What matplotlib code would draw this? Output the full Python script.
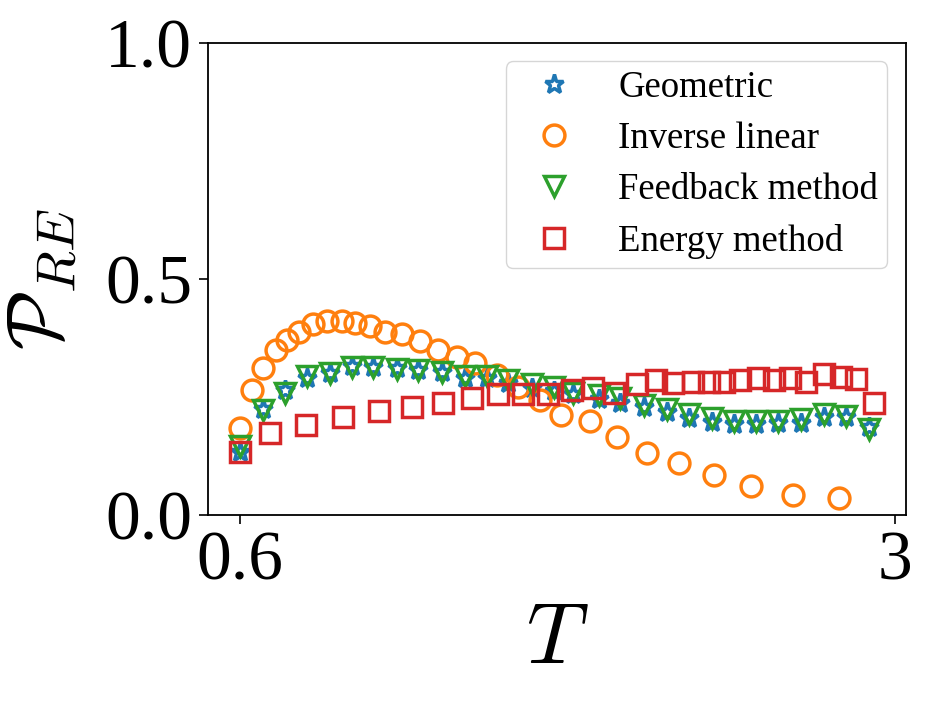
import matplotlib
matplotlib.use('Agg')
import matplotlib.pyplot as plt

# ---------------------------------------------------------------
# DATA

t_geo = [0.600, 0.684, 0.765, 0.846, 0.930, 1.011, 1.088, 1.176, 1.253, 1.341,
         1.426, 1.506, 1.583, 1.672, 1.749, 1.822, 1.914, 1.994, 2.079, 2.163,
         2.244, 2.328, 2.409, 2.490, 2.571, 2.655, 2.739, 2.820, 2.905]
p_geo = [0.133, 0.225, 0.265, 0.290, 0.300, 0.316, 0.314, 0.312, 0.308, 0.302,
         0.290, 0.290, 0.280, 0.270, 0.262, 0.256, 0.245, 0.238, 0.229, 0.218,
         0.205, 0.197, 0.193, 0.193, 0.194, 0.195, 0.207, 0.207, 0.186]

t_inv = [0.600, 0.644, 0.684, 0.732, 0.772, 0.817, 0.868, 0.919, 0.974, 1.022,
         1.077, 1.132, 1.194, 1.260, 1.327, 1.396, 1.462, 1.543, 1.620, 1.701,
         1.778, 1.884, 1.983, 2.093, 2.207, 2.336, 2.472, 2.626, 2.794]
p_inv = [0.184, 0.265, 0.311, 0.350, 0.371, 0.388, 0.405, 0.411, 0.411, 0.407,
         0.400, 0.388, 0.383, 0.369, 0.350, 0.335, 0.322, 0.297, 0.271, 0.244,
         0.212, 0.199, 0.165, 0.131, 0.110, 0.085, 0.062, 0.042, 0.036]

t_fb = t_geo
p_fb = [0.146, 0.222, 0.258, 0.294, 0.301, 0.314, 0.314, 0.309, 0.307, 0.303,
        0.294, 0.294, 0.286, 0.278, 0.271, 0.258, 0.254, 0.248, 0.233, 0.225,
        0.214, 0.206, 0.199, 0.199, 0.199, 0.203, 0.214, 0.210, 0.182]

t_en = [0.600, 0.710, 0.842, 0.978, 1.110, 1.231, 1.345, 1.451, 1.547, 1.639,
        1.727, 1.815, 1.895, 1.972, 2.053, 2.123, 2.185, 2.259, 2.317, 2.372,
        2.431, 2.497, 2.556, 2.615, 2.673, 2.739, 2.802, 2.857, 2.923]
p_en = [0.133, 0.174, 0.191, 0.208, 0.220, 0.229, 0.237, 0.248, 0.256, 0.256,
        0.256, 0.265, 0.269, 0.258, 0.278, 0.286, 0.280, 0.282, 0.282, 0.282,
        0.286, 0.290, 0.286, 0.290, 0.282, 0.299, 0.292, 0.288, 0.237]

labels = ['Geometric', 'Inverse linear', 'Feedback method', 'Energy method']

# ---------------------------------------------------------------
# PLOT

plt.rcParams['font.family'] = ['Liberation Serif', 'DejaVu Serif']
plt.rcParams['mathtext.fontset'] = 'cm'

fig = plt.figure(figsize=(9.3, 7.05), dpi=100)
ax = fig.add_axes([0.2237, 0.2695, 0.7503, 0.6695])

mew = 2.5
ax.plot(t_geo, p_geo, '*', ls='none', ms=14, mew=mew, mfc='none',
        color='#1f77b4', label=labels[0])
ax.plot(t_inv, p_inv, 'o', ls='none', ms=15, mew=mew, mfc='none',
        color='#ff7f0e', label=labels[1])
ax.plot(t_fb, p_fb, 'v', ls='none', ms=15, mew=mew, mfc='none',
        color='#2ca02c', label=labels[2])
ax.plot(t_en, p_en, 's', ls='none', ms=15, mew=mew, mfc='none',
        color='#d62728', label=labels[3])

ax.set_ylim(0, 1)
ax.set_xticks([0.6, 3])
ax.set_xticklabels(['0.6', '3'])
ax.set_yticks([0, 0.5, 1.0])
ax.set_yticklabels(['0.0', '0.5', '1.0'])
ax.tick_params(labelsize=50, length=6.5, width=1.2, pad=5)
for s in ax.spines.values():
    s.set_linewidth(1.3)

ax.set_xlabel('$T$', fontsize=62, labelpad=6)
ax.set_ylabel(r'$\mathcal{P}_{RE}$', fontsize=56, labelpad=18)

leg = ax.legend(loc='upper right', fontsize=26.5, handlelength=2.1,
                handletextpad=0.7, labelspacing=0.45, borderpad=0.25)
leg.get_frame().set_edgecolor('0.8')

fig.savefig('out.png', dpi=100)
